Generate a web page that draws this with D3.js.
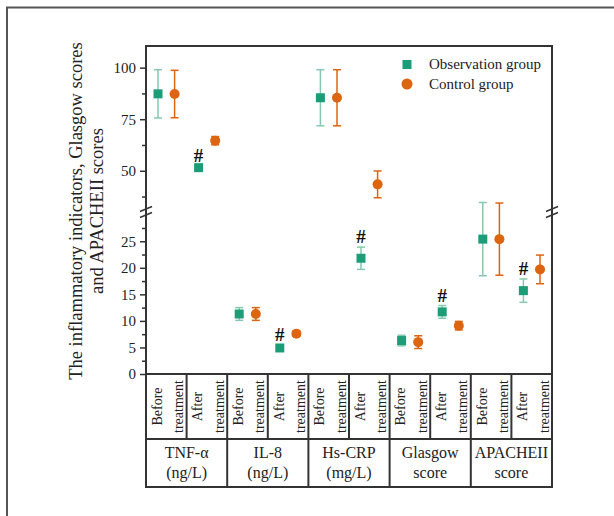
<!DOCTYPE html>
<html>
<head>
<meta charset="utf-8">
<script src="https://cdn.jsdelivr.net/npm/d3@7"></script>
<style>
  body { margin: 0; background: #fff; }
  text { font-family: "Liberation Serif", "Times New Roman", serif; fill: #222; }
</style>
</head>
<body>
<div id="chart"></div>
<script>
// Data
const groups = [["TNF-α", "(ng/L)"], ["IL-8", "(ng/L)"], ["Hs-CRP", "(mg/L)"], ["Glasgow", "score"], ["APACHEII", "score"]];
const phases = [["Before", "treatment"], ["After", "treatment"]];
const obsMean = [87.3, 51.5, 11.3, 4.9, 85.4, 21.8, 6.3, 11.7, 25.4, 15.7];
const obsErr = [11.7, 1.0, 1.2, 0.5, 13.6, 2.1, 1.0, 1.2, 6.9, 2.2];
const ctrlMean = [87.2, 64.6, 11.3, 7.6, 85.4, 43.4, 6.0, 9.1, 25.4, 19.7];
const ctrlErr = [11.5, 2.0, 1.2, 0.5, 13.6, 6.5, 1.2, 0.8, 6.8, 2.7];
const significant = [false, true, false, true, false, true, false, true, false, true];
const upperTicks = [50, 75, 100], upperMinor = [37.5, 62.5, 87.5];
const lowerTicks = [0, 5, 10, 15, 20, 25], lowerMinor = [2.5, 7.5, 12.5, 17.5, 22.5, 27.5];
const breakValue = 30;

// Layout
const chartWidth = 614, chartHeight = 516;
const plotLeft = 146, plotRight = 552, plotTop = 46, plotBottom = 374;
const rowSplit = 439, tableBottom = 487;
const green = "#1b9e77", greenLight = "#86c9ae", orange = "#dd6410";

const svg = d3.select("#chart").append("svg")
  .attr("width", chartWidth).attr("height", chartHeight);

// outer frame (left & top)
svg.append("path")
  .attr("d", `M7,${chartHeight} V7.5 H${chartWidth}`)
  .attr("fill", "none").attr("stroke", "#555").attr("stroke-width", 2);

const cols = d3.range(10);
const x = d3.scaleBand().domain(cols).range([plotLeft, plotRight]);
const yUp = d3.scaleLinear().domain([breakValue, 110.5]).range([212, plotTop]);
const yLow = d3.scaleLinear().domain([0, breakValue]).range([plotBottom, 214.7]);
const yOf = (v, ref) => (ref > breakValue ? yUp(v) : yLow(v));

// axes
function drawAxis(scale, ticks, minor) {
  const g = svg.append("g").attr("transform", `translate(${plotLeft},0)`);
  g.call(d3.axisLeft(scale).tickValues(ticks).tickSize(6).tickPadding(4))
    .call(g => g.select(".domain").remove());
  g.selectAll(".tick line").attr("stroke", "#333").attr("stroke-width", 1.5);
  g.selectAll(".tick text").attr("font-size", 15)
    .style("font-family", "Liberation Serif").attr("fill", "#222");
  g.append("g").call(d3.axisLeft(scale).tickValues(minor).tickSize(4).tickFormat(""))
    .call(g => g.select(".domain").remove())
    .selectAll("line").attr("stroke", "#333").attr("stroke-width", 1.5);
}
drawAxis(yUp, upperTicks, upperMinor);
drawAxis(yLow, lowerTicks, lowerMinor);

// plot frame
svg.append("rect")
  .attr("x", plotLeft).attr("y", plotTop).attr("width", plotRight - plotLeft).attr("height", plotBottom - plotTop)
  .attr("fill", "none").attr("stroke", "#333").attr("stroke-width", 2);

// break marks
[plotLeft, plotRight].forEach(bx => {
  [209, 215].forEach(by => {
    svg.append("line")
      .attr("x1", bx - 6).attr("y1", by + 2.5).attr("x2", bx + 6).attr("y2", by - 2.5)
      .attr("stroke", "#333").attr("stroke-width", 1.5);
  });
});

// error bars and markers
const off = 8.3;
function drawSeries(means, errs, dx, color, errColor, shape) {
  const g = svg.append("g");
  means.forEach((m, i) => {
    const cx = x(i) + x.bandwidth() / 2 + dx;
    const y0 = yOf(m - errs[i], m), y1 = yOf(m + errs[i], m);
    g.append("line").attr("x1", cx).attr("x2", cx).attr("y1", y0).attr("y2", y1)
      .attr("stroke", errColor).attr("stroke-width", 1.5);
    [y0, y1].forEach(yy => g.append("line")
      .attr("x1", cx - 4).attr("x2", cx + 4).attr("y1", yy).attr("y2", yy)
      .attr("stroke", errColor).attr("stroke-width", 1.5));
    const cy = yOf(m, m);
    if (shape === "square") {
      g.append("rect").attr("x", cx - 4.5).attr("y", cy - 4.5)
        .attr("width", 9).attr("height", 9).attr("fill", color);
    } else {
      g.append("circle").attr("cx", cx).attr("cy", cy).attr("r", 5).attr("fill", color);
    }
  });
}
drawSeries(obsMean, obsErr, -off, green, greenLight, "square");
drawSeries(ctrlMean, ctrlErr, off, orange, orange, "circle");

// significance marks
svg.append("g").selectAll("text")
  .data(cols.filter(i => significant[i]))
  .join("text")
  .attr("x", i => x(i) + x.bandwidth() / 2 - off)
  .attr("y", i => yOf(obsMean[i] + obsErr[i], obsMean[i]) - 4)
  .attr("text-anchor", "middle")
  .attr("font-size", 19).attr("font-weight", "bold")
  .style("fill", "#111")
  .text("#");

// legend
const lg = svg.append("g");
lg.append("rect").attr("x", 402.5).attr("y", 60).attr("width", 9).attr("height", 9).attr("fill", green);
lg.append("circle").attr("cx", 407).attr("cy", 84).attr("r", 5.5).attr("fill", orange);
lg.append("text").attr("x", 429).attr("y", 69).attr("font-size", 15).text("Observation group");
lg.append("text").attr("x", 429).attr("y", 89).attr("font-size", 15).text("Control group");

// y title
const title = svg.append("g").attr("transform", "translate(0,211)");
[["The inflammatory indicators, Glasgow scores", 76], ["and APACHEII scores", 97]].forEach(([t, tx]) => {
  title.append("text")
    .attr("transform", `translate(${tx},0) rotate(-90)`)
    .attr("text-anchor", "middle").attr("dy", "0.35em")
    .attr("font-size", 18.5).text(t);
});

// category table
const tbl = svg.append("g");
const lineStyle = s => s.attr("stroke", "#333").attr("stroke-width", 2);
tbl.append("rect").attr("x", plotLeft).attr("y", plotBottom).attr("width", plotRight - plotLeft)
  .attr("height", tableBottom - plotBottom).attr("fill", "none").call(lineStyle);
tbl.append("line").attr("x1", plotLeft).attr("x2", plotRight).attr("y1", rowSplit).attr("y2", rowSplit).call(lineStyle);
cols.slice(1).forEach(i => {
  tbl.append("line").attr("x1", x(i)).attr("x2", x(i))
    .attr("y1", plotBottom).attr("y2", i % 2 === 0 ? tableBottom : rowSplit).call(lineStyle);
});
cols.forEach(i => {
  const cx = x(i) + x.bandwidth() / 2;
  const lines = phases[i % 2];
  lines.forEach((t, k) => {
    tbl.append("text")
      .attr("transform", `translate(${cx + (k === 0 ? -9.5 : 12)},${(plotBottom + rowSplit) / 2}) rotate(-90)`)
      .attr("text-anchor", "middle").attr("dy", "0.35em")
      .attr("font-size", 14).text(t);
  });
});
groups.forEach((gLines, gi) => {
  const cx = x(gi * 2 + 1);
  gLines.forEach((t, k) => {
    tbl.append("text").attr("x", cx).attr("y", 458 + k * 20)
      .attr("text-anchor", "middle").attr("font-size", 16).text(t);
  });
});
</script>
</body>
</html>
